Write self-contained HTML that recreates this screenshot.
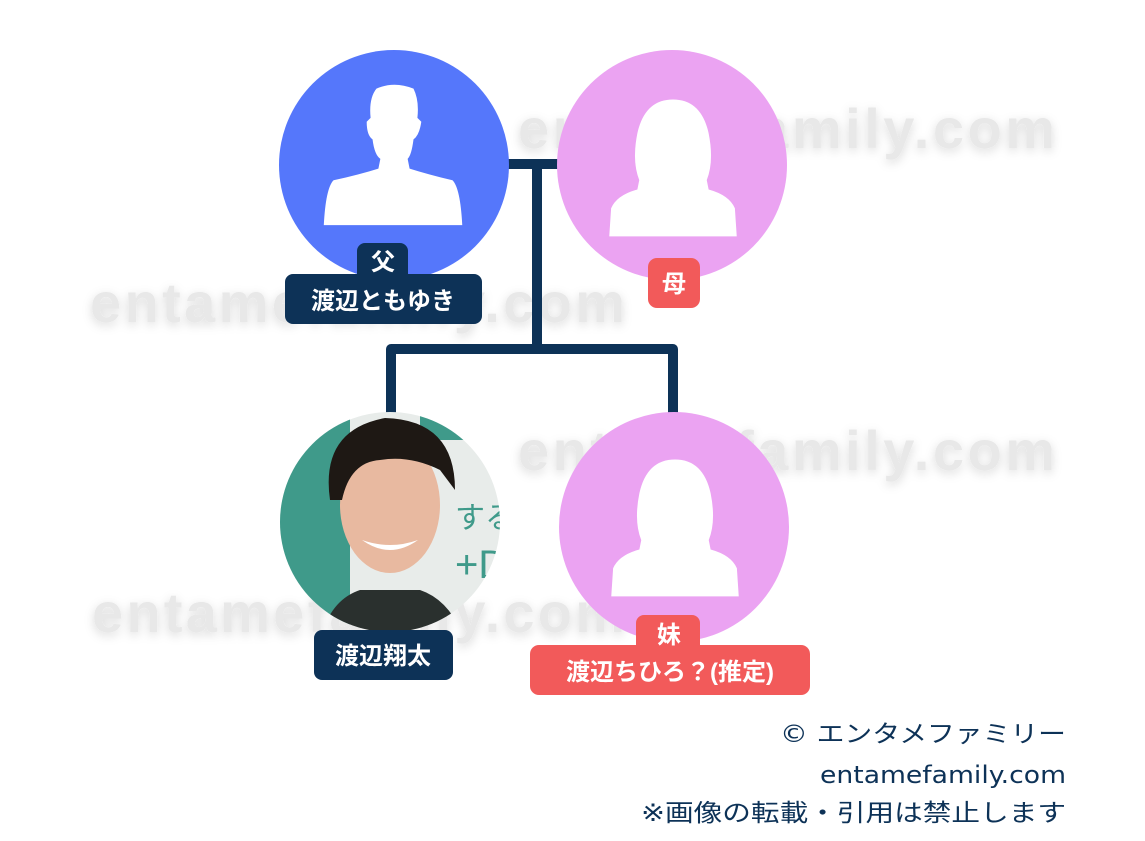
<!DOCTYPE html>
<html><head><meta charset="utf-8"><style>
html,body{margin:0;padding:0;background:#fff;}
svg{display:block}
.wm{font-family:"Liberation Sans",sans-serif;font-weight:bold;font-size:56px;fill:#e8e8e8;}
.lb{font-family:"Liberation Sans","Noto Sans CJK JP",sans-serif;font-weight:bold;font-size:24px;fill:#fff;}
.ft{font-family:"DejaVu Sans","Noto Sans CJK JP",sans-serif;font-size:24px;fill:#0d3257;}
</style></head><body>
<svg width="1145" height="841" viewBox="0 0 1145 841" xmlns="http://www.w3.org/2000/svg">
<defs>
<filter id="sh" x="-10%" y="-50%" width="120%" height="200%"><feDropShadow dx="0" dy="3" stdDeviation="5" flood-color="#000" flood-opacity="0.15"/></filter>
<clipPath id="cs"><circle cx="390" cy="522" r="110"/></clipPath>
<symbol id="male" viewBox="0 0 160 150">
<path d="M62 10 Q80 2 100 10 Q106 22 104 40 L108 44 Q106 58 100 62 Q98 78 94 82 L96 92 Q115 98 140 104 Q148 112 150 150 L8 150 Q10 112 18 104 Q45 98 64 92 L66 82 Q60 78 58 62 Q52 58 52 44 L56 40 Q54 20 62 10Z" fill="#fff"/>
</symbol>
<symbol id="female" viewBox="0 0 160 150">
<path d="M80 4 Q110 4 118 40 Q124 70 116 90 L118 100 Q140 106 146 120 L148 150 L12 150 L14 120 Q20 106 42 100 L44 90 Q36 70 42 40 Q50 4 80 4Z" fill="#fff"/>
</symbol>
</defs>
<g filter="url(#sh)">
<text class="wm" x="518" y="148" textLength="537">entamefamily.com</text>
<text class="wm" x="90" y="322" textLength="535">entamefamily.com</text>
<text class="wm" x="518" y="470" textLength="537">entamefamily.com</text>
<text class="wm" x="92" y="632" textLength="533">entamefamily.com</text>
</g>
<g stroke="#0d3257" stroke-width="10" fill="none" stroke-linejoin="round">
<path d="M508 164 H560"/>
<path d="M537 164 V349"/>
<path d="M391 420 V349 H673 V430"/>
</g>
<circle cx="394" cy="165" r="115" fill="#5577fb"/>
<use href="#male" x="316" y="78" width="156" height="148"/>
<circle cx="672" cy="165" r="115" fill="#eba3f2"/>
<use href="#female" x="598" y="92" width="150" height="148"/>
<g clip-path="url(#cs)">
<rect x="270" y="400" width="240" height="240" fill="#e8ecea"/>
<rect x="270" y="400" width="80" height="240" fill="#3f9a8a"/>
<rect x="420" y="400" width="80" height="40" fill="#3f9a8a"/>
<text x="455" y="528" font-family="Liberation Sans,Noto Sans CJK JP,sans-serif" font-size="30" fill="#3f9a8a">する</text>
<text x="455" y="578" font-family="Liberation Sans,sans-serif" font-size="40" fill="#3f9a8a">+DF</text>
<path d="M320 640 Q330 600 360 590 L420 590 Q450 600 465 640Z" fill="#2a302e"/>
<ellipse cx="390" cy="505" rx="50" ry="68" fill="#e8b9a0"/>
<path d="M330 500 Q320 430 385 418 Q455 420 455 490 L440 470 Q410 455 380 460 Q350 462 342 500Z" fill="#1e1814"/>
<path d="M362 540 Q390 560 418 540 Q390 550 362 540Z" fill="#fff"/>
</g>
<circle cx="674" cy="527" r="115" fill="#eba3f2"/>
<use href="#female" x="600" y="452" width="150" height="148"/>
<rect x="357" y="243" width="51" height="40" rx="8" fill="#0d3257"/>
<rect x="285" y="274" width="197" height="50" rx="8" fill="#0d3257"/>
<text class="lb" x="383" y="270" text-anchor="middle">父</text>
<text class="lb" x="383" y="309" text-anchor="middle">渡辺ともゆき</text>
<rect x="648" y="258" width="52" height="50" rx="9" fill="#f25a5a"/>
<text class="lb" x="674" y="292" text-anchor="middle">母</text>
<rect x="314" y="630" width="139" height="50" rx="8" fill="#0d3257"/>
<text class="lb" x="383" y="664" text-anchor="middle">渡辺翔太</text>
<rect x="636" y="615" width="64" height="40" rx="8" fill="#f25a5a"/>
<rect x="530" y="645" width="280" height="50" rx="9" fill="#f25a5a"/>
<text class="lb" x="669" y="643" text-anchor="middle">妹</text>
<text class="lb" x="670" y="680" text-anchor="middle">渡辺ちひろ？(推定)</text>
<text class="ft" x="780" y="742" textLength="286" lengthAdjust="spacingAndGlyphs">© エンタメファミリー</text>
<text class="ft" x="820" y="783" textLength="246" lengthAdjust="spacingAndGlyphs">entamefamily.com</text>
<text class="ft" x="641" y="821" textLength="425" lengthAdjust="spacingAndGlyphs">※画像の転載・引用は禁止します</text>
</svg>
</body></html>
